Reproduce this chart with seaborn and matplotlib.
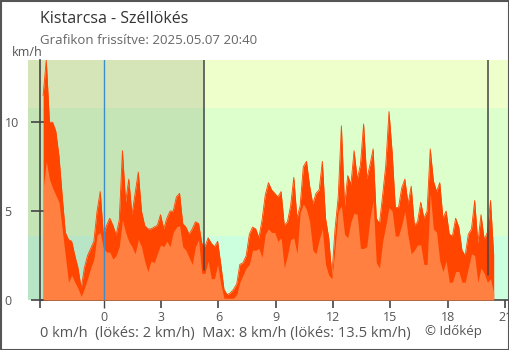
import numpy as np
import matplotlib
matplotlib.use("Agg")
import matplotlib.pyplot as plt
import seaborn as sns
from matplotlib.patches import Rectangle

# --- data (10-minute steps, hours relative to midnight of 2025-05-07) ---
gust = [
    11.5, 13.5, 10.0, 10.0, 9.5, 8.1, 5.9, 3.8, 3.4, 3.3, 2.5, 1.8, 0.65, 1.8, 2.5,
    2.9, 3.3, 5.0, 6.1, 3.65, 4.2, 4.6, 4.2, 3.65,
    4.5, 8.4, 5.5, 6.8, 4.8, 6.0, 7.2, 5.0, 4.2, 4.0, 4.0, 4.1, 4.2, 4.8, 4.0,
    4.6, 5.0, 5.0, 5.8, 6.0, 4.3, 4.1, 3.7, 4.0, 4.4,
    4.3, 3.2, 3.0, 3.5, 3.2, 3.0, 3.3, 2.0, 0.6, 0.3, 0.4, 0.6, 0.9, 2.0, 2.1,
    2.5, 3.7, 4.1, 4.0, 3.5, 4.5, 5.9, 6.6, 6.2,
    6.0, 5.8, 6.1, 4.2, 4.4, 5.3, 6.9, 4.6, 5.3, 7.5, 7.8, 6.4, 5.4, 6.0, 6.2,
    7.8, 4.6, 3.5, 1.4, 4.0, 5.8, 9.8, 5.3, 7.0,
    6.5, 8.4, 6.8, 7.6, 9.9, 6.8, 7.6, 8.5, 4.6, 4.3, 5.9, 7.6, 10.6, 8.3, 5.2,
    5.2, 6.3, 6.8, 5.4, 6.4, 4.2, 4.4, 5.5, 4.6,
    5.0, 8.5, 6.7, 6.1, 6.6, 4.6, 5.0, 3.7, 3.6, 4.6, 4.1, 2.8, 2.5, 3.7, 4.0,
    5.6, 3.2, 4.8, 3.4, 3.8, 5.6, 2.5,
]
avg = [
    6.2, 7.8, 6.8, 6.3, 5.9, 5.5, 4.0, 2.5, 1.0, 1.4, 1.0, 0.65, 0.2, 0.65, 1.2,
    1.8, 2.3, 3.65, 3.8, 2.9, 2.7, 2.7, 2.3, 2.5,
    3.0, 4.5, 3.8, 3.3, 3.0, 2.6, 3.4, 3.0, 2.2, 1.6, 2.2, 2.1, 2.6, 3.1, 3.0,
    3.3, 3.0, 3.8, 4.1, 4.2, 3.0, 2.8, 2.4, 2.0, 3.0,
    3.4, 1.5, 1.5, 2.2, 1.2, 1.2, 2.0, 0.9, 0.1, 0.1, 0.1, 0.1, 0.3, 1.0, 1.4,
    1.8, 2.0, 2.8, 2.8, 2.9, 2.4, 3.7, 4.0, 3.8,
    3.8, 3.3, 3.5, 1.8, 2.5, 3.4, 3.5, 2.6, 4.9, 5.4, 5.1, 4.4, 2.8, 2.6, 3.4,
    4.0, 2.0, 1.4, 1.2, 2.9, 5.0, 5.3, 3.7, 3.5,
    4.4, 4.9, 4.8, 2.9, 2.9, 3.0, 4.6, 5.6, 2.1, 1.8, 3.3, 4.2, 5.2, 5.0, 3.6,
    3.6, 4.2, 5.0, 3.6, 2.6, 2.8, 3.1, 3.1, 2.0,
    2.0, 6.0, 4.0, 3.8, 2.2, 1.6, 2.2, 1.0, 1.0, 1.6, 1.6, 1.0, 1.0, 1.8, 2.6,
    2.5, 1.0, 1.8, 1.5, 1.0, 1.2, 0.4,
]
data_start, data_end = -3.17, 20.4          # 20:50 previous day .. 20:24
x_tick_values = [-3.33, 0, 3, 6, 9, 12, 15, 18, 21]
x_tick_labels = ["", "0", "3", "6", "9", "12", "15", "18", "21"]
y_tick_values = [0, 5, 10]
band_edges = [0, 3.6, 10.8, 13.5]           # 1 m/s and 3 m/s in km/h
sunrise, sunset = 5.24, 20.1
title = "Kistarcsa - Széllökés"
subtitle = "Grafikon frissítve: 2025.05.07 20:40"
summary = "0 km/h  (lökés: 2 km/h)  Max: 8 km/h (lökés: 13.5 km/h)"
credit = "© Időkép"

# --- figure ---
sns.set_theme(style="white")
plt.rcParams["font.family"] = ["Open Sans", "DejaVu Sans"]
W, H = 510, 350
fig = plt.figure(figsize=(W / 100, H / 100), dpi=100)
fig.patch.set_facecolor("white")
ax = fig.add_axes([28 / W, 1 - 300 / H, (509 - 28) / W, 240 / H])
ax.set_xlim(-3.96, 21.2)
ax.set_ylim(0, 13.5)

band_colors = ["#CCFFDD", "#DDFFCC", "#EEFFCC"]
for lo, hi, c in zip(band_edges[:-1], band_edges[1:], band_colors):
    ax.axhspan(lo, hi, color=c, lw=0, zorder=0)
ax.axvspan(-3.96, sunrise, color="black", alpha=0.1, lw=0, zorder=0.5)

n = len(gust)
t = np.linspace(data_start, data_end, n)
ax.fill_between(t, gust, color="#FF4500", lw=0, zorder=2)
ax.fill_between(t, avg, color="#FF8040", lw=0, zorder=3)
sns.lineplot(x=t, y=gust, color="#FF4500", lw=0.6, ax=ax, zorder=2)

# reference lines
ax.axvline(0, color="#3C8DC8", lw=1, zorder=4)
ax.plot([sunrise, sunrise], [1.7, 13.5], color="#444444", lw=1.1, zorder=4)
ax.plot([sunset, sunset], [1.4, 13.5], color="#444444", lw=1.1, zorder=4)

# spines and ticks
for s in ["top", "right"]:
    ax.spines[s].set_visible(False)
ax.spines["left"].set_position(("data", -3.33))
ax.spines["left"].set_color("#444444")
ax.spines["left"].set_linewidth(1.2)
ax.spines["bottom"].set_color("#444444")
ax.spines["bottom"].set_linewidth(1.2)
ax.spines["bottom"].set_bounds(-3.33, 21.2)
ax.spines["left"].set_zorder(5)

ax.set_xticks(x_tick_values)
ax.set_xticklabels(x_tick_labels)
ax.set_yticks(y_tick_values)
ax.tick_params(axis="x", direction="out", length=6, width=1.2, color="#444444",
               labelsize=9, labelcolor="#555555", pad=2, bottom=True)
ax.tick_params(axis="y", direction="inout", length=13, width=1.2, color="#444444",
               labelsize=9, labelcolor="#555555", pad=19, left=True)
for lab in ax.get_yticklabels():
    lab.set_horizontalalignment("left")
ax.xaxis.get_major_ticks()[1].tick1line.set_color("#3C8DC8")
ax.xaxis.get_major_ticks()[1].tick1line.set_markeredgewidth(1)
ax.grid(False)

# texts
fig.text(40 / W, 1 - 19 / H, title, fontsize=11.5, color="#333333", va="center", ha="left")
fig.text(40 / W, 1 - 41 / H, subtitle, fontsize=9.5, color="#666666", va="center", ha="left")
fig.text(12 / W, 1 - 52 / H, "km/h", fontsize=9, color="#555555", va="center", ha="left")
fig.text(40 / W, 1 - 333 / H, summary, fontsize=10.5, color="#555555", va="center", ha="left")
fig.text(425 / W, 1 - 331 / H, credit, fontsize=9.5, color="#555555", va="center", ha="left")

fig.patches.append(Rectangle((0.5 / W, 0.5 / H), 509 / W, 348.5 / H, transform=fig.transFigure,
                             fill=False, edgecolor="#555555", lw=1.5, figure=fig))

fig.savefig("out.png", dpi=100)
